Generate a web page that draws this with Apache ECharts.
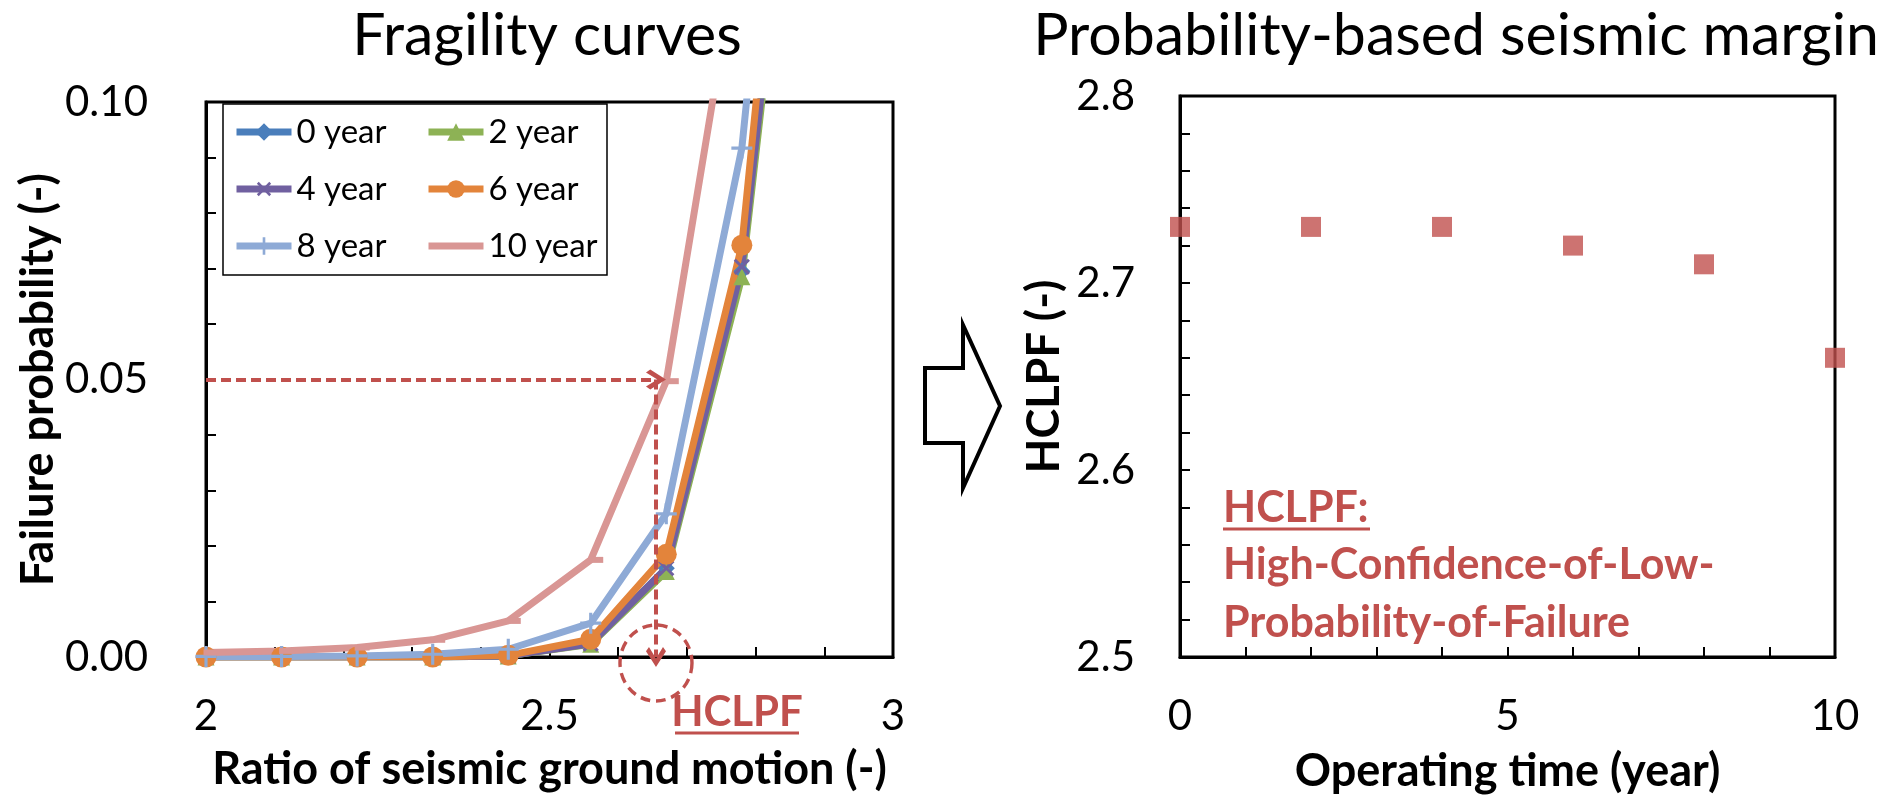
<!DOCTYPE html>
<html>
<head>
<meta charset="utf-8">
<title>Fragility curves / HCLPF</title>
<script src="https://cdn.jsdelivr.net/npm/echarts/dist/echarts.min.js"></script>
<style>
  html, body { margin: 0; padding: 0; background: #fff; }
  #main { width: 1893px; height: 799px; }
</style>
</head>
<body>
<div id="main"></div>
<script>
// ratio of seismic ground motion (x of the fragility curves)
var ratio = [2.00, 2.11, 2.22, 2.33, 2.44, 2.56, 2.67, 2.78, 2.89];

// failure probability per operating year
var year0  = [0, 0, 0, 0, 0.0002, 0.0025, 0.0160, 0.0695, 0.190];
var year2  = [0, 0, 0, 0, 0.0002, 0.0023, 0.0154, 0.0685, 0.188];
var year4  = [0, 0, 0, 0, 0.0002, 0.0024, 0.0160, 0.0703, 0.192];
var year6  = [0, 0, 0, 0, 0.0003, 0.0032, 0.0185, 0.0742, 0.211];
var year8  = [0.0001, 0.0001, 0.0002, 0.0005, 0.0014, 0.0061, 0.0258, 0.0917, 0.227];
var year10 = [0.0008, 0.0011, 0.0017, 0.0031, 0.0065, 0.0175, 0.0497, 0.132, 0.300];

// HCLPF read at 5% failure probability
var hclpfRatio = 2.655;
var targetProb = 0.05;

// probability-based seismic margin
var operatingYears = [0, 2, 4, 6, 8, 10];
var hclpf = [2.73, 2.73, 2.73, 2.72, 2.71, 2.66];

// tick labels that are printed
var xLeftLabels = [2, 2.5, 3];
var yLeftLabels = [0, 0.05, 0.1];
var xRightLabels = [0, 5, 10];
var yRightLabels = [2.5, 2.6, 2.7, 2.8];

var FONT = 'Lato';
var RED = '#C0504D';

var plusPath = 'path://M8.5,0 H11.5 V8.5 H20 V11.5 H11.5 V20 H8.5 V11.5 H0 V8.5 H8.5 Z';
var dashPath = 'path://M0,0 H20 V5 H0 Z';
var chevronPath = 'path://M0,11 L10,0 L20,11 L17,14 L10,6 L3,14 Z';

function pick(list, v) {
    for (var i = 0; i < list.length; i++) {
        if (Math.abs(list[i] - v) < 1e-6) return true;
    }
    return false;
}

function pairs(ys) {
    var out = [];
    for (var i = 0; i < ratio.length; i++) {
        out.push([ratio[i], ys[i]]);
    }
    return out;
}

function curve(name, ys, color, symbol, size, rotate, offset) {
    return {
        name: name,
        type: 'line',
        xAxisIndex: 0,
        yAxisIndex: 0,
        data: pairs(ys),
        clip: true,
        symbol: symbol,
        symbolSize: size,
        symbolRotate: rotate || 0,
        symbolOffset: offset || [0, 0],
        showAllSymbol: true,
        lineStyle: { color: color, width: 7 },
        itemStyle: { color: color },
        emphasis: { disabled: true }
    };
}

var axisLineStyle = { lineStyle: { color: '#000', width: 3 } };
var tickStyle = { show: true, inside: true, length: 10, lineStyle: { color: '#000', width: 2 } };
var legendText = { fontFamily: FONT, fontSize: 33, color: '#000', lineHeight: 34 };
var nameText = { fontFamily: FONT, fontSize: 45, fontWeight: 'bold', color: '#000' };

var myChart = echarts.init(document.getElementById('main'));

var option = {
    animation: false,
    backgroundColor: '#fff',
    textStyle: { fontFamily: FONT },
    grid: [
        { left: 206, right: 1000, top: 102, bottom: 142, show: true, borderColor: '#000', borderWidth: 3 },
        { left: 1180, right: 58, top: 96, bottom: 139, show: true, borderColor: '#000', borderWidth: 3 }
    ],
    legend: [
        {
            data: ['0 year', '4 year', '8 year'],
            orient: 'vertical', left: 233, top: 115,
            itemWidth: 55, itemHeight: 22, itemGap: 23, padding: 0,
            lineStyle: { width: 7 },
            textStyle: legendText
        },
        {
            data: ['2 year', '6 year', { name: '10 year', itemStyle: { opacity: 0 } }],
            orient: 'vertical', left: 425, top: 115,
            itemWidth: 55, itemHeight: 22, itemGap: 23, padding: 0,
            lineStyle: { width: 7 },
            textStyle: legendText
        }
    ],
    xAxis: [
        {
            gridIndex: 0, type: 'value', min: 2, max: 3, interval: 0.1,
            axisLine: axisLineStyle, axisTick: tickStyle, splitLine: { show: false },
            axisLabel: {
                margin: 38, fontSize: 42, color: '#000', fontFamily: FONT,
                formatter: function (v) { return pick(xLeftLabels, v) ? String(v) : ''; }
            },
            name: 'Ratio of seismic ground motion (-)', nameLocation: 'middle', nameGap: 90,
            nameTextStyle: nameText
        },
        {
            gridIndex: 1, type: 'value', min: 0, max: 10, interval: 1,
            axisLine: axisLineStyle, axisTick: tickStyle, splitLine: { show: false },
            axisLabel: {
                margin: 38, fontSize: 42, color: '#000', fontFamily: FONT,
                formatter: function (v) { return pick(xRightLabels, v) ? String(v) : ''; }
            },
            name: 'Operating time (year)', nameLocation: 'middle', nameGap: 92,
            nameTextStyle: nameText
        }
    ],
    yAxis: [
        {
            gridIndex: 0, type: 'value', min: 0, max: 0.1, interval: 0.01,
            axisLine: axisLineStyle, axisTick: tickStyle, splitLine: { show: false },
            axisLabel: {
                margin: 58, fontSize: 42, color: '#000', fontFamily: FONT,
                formatter: function (v) { return pick(yLeftLabels, v) ? v.toFixed(2) : ''; }
            },
            name: 'Failure probability (-)', nameLocation: 'middle', nameGap: 142, nameRotate: 90,
            nameTextStyle: nameText
        },
        {
            gridIndex: 1, type: 'value', min: 2.5, max: 2.8, interval: 0.02,
            axisLine: axisLineStyle, axisTick: tickStyle, splitLine: { show: false },
            axisLabel: {
                margin: 45, fontSize: 42, color: '#000', fontFamily: FONT,
                formatter: function (v) { return pick(yRightLabels, v) ? v.toFixed(1) : ''; }
            },
            name: 'HCLPF (-)', nameLocation: 'middle', nameGap: 113, nameRotate: 90,
            nameTextStyle: nameText
        }
    ],
    series: [
        curve('0 year', year0, '#4A7EBB', 'diamond', 17),
        curve('2 year', year2, '#8DB255', 'triangle', 17),
        curve('4 year', year4, '#7060A0', plusPath, 20, 45),
        curve('6 year', year6, '#E3843B', 'circle', 21),
        curve('8 year', year8, '#8EAAD6', plusPath, 21),
        curve('10 year', year10, '#D99694', dashPath, [15, 6], 0, [5, 0]),
        {
            name: 'HCLPF',
            type: 'line',
            xAxisIndex: 0,
            yAxisIndex: 0,
            data: [],
            clip: false,
            markLine: {
                silent: true,
                symbol: ['none', chevronPath],
                symbolSize: 20,
                label: { show: false },
                lineStyle: { color: RED, width: 4, type: [10, 5] },
                data: [
                    [{ coord: [2, targetProb] }, { coord: [hclpfRatio, targetProb] }],
                    [{ coord: [hclpfRatio, targetProb] }, { coord: [hclpfRatio, 0] }]
                ]
            },
            markPoint: {
                silent: true,
                symbol: 'circle',
                symbolSize: [72, 76],
                symbolOffset: [0, 6],
                label: { show: false },
                itemStyle: { color: 'rgba(0,0,0,0)', borderColor: RED, borderWidth: 3.5, borderType: [10, 6] },
                data: [{ coord: [hclpfRatio, 0] }]
            }
        },
        {
            name: 'HCLPF margin',
            type: 'scatter',
            xAxisIndex: 1,
            yAxisIndex: 1,
            clip: false,
            symbol: 'rect',
            symbolSize: 20,
            itemStyle: { color: RED },
            data: operatingYears.map(function (t, i) { return [t, hclpf[i]]; })
        }
    ],
    graphic: [
        {
            type: 'text', x: 547, y: 36,
            style: { text: 'Fragility curves', fontFamily: FONT, fontSize: 59, fill: '#000', textAlign: 'center', textVerticalAlign: 'middle' }
        },
        {
            type: 'text', x: 1456, y: 36,
            style: { text: 'Probability-based seismic margin', fontFamily: FONT, fontSize: 59, fill: '#000', textAlign: 'center', textVerticalAlign: 'middle' }
        },
        {
            type: 'rect', z: 0,
            shape: { x: 223, y: 104, width: 384, height: 171 },
            style: { fill: '#fff', stroke: '#000', lineWidth: 1.5 }
        },
        {
            type: 'polygon',
            shape: { points: [[925, 368], [963, 368], [963, 325], [1000, 406], [963, 488], [963, 443], [925, 443]] },
            style: { fill: '#fff', stroke: '#000', lineWidth: 4 }
        },
        {
            type: 'text', x: 737, y: 712,
            style: { text: 'HCLPF', fontFamily: FONT, fontSize: 42, fontWeight: 'bold', fill: RED, textAlign: 'center', textVerticalAlign: 'middle' }
        },
        {
            type: 'line', shape: { x1: 675, y1: 733, x2: 799, y2: 733 },
            style: { stroke: RED, lineWidth: 3 }
        },
        {
            type: 'text', x: 1223, y: 508,
            style: { text: 'HCLPF:', fontFamily: FONT, fontSize: 43, fontWeight: 'bold', fill: RED, textAlign: 'left', textVerticalAlign: 'middle' }
        },
        {
            type: 'line', shape: { x1: 1223, y1: 529, x2: 1370, y2: 529 },
            style: { stroke: RED, lineWidth: 3 }
        },
        {
            type: 'text', x: 1223, y: 565,
            style: { text: 'High-Confidence-of-Low-', fontFamily: FONT, fontSize: 43, fontWeight: 'bold', fill: RED, textAlign: 'left', textVerticalAlign: 'middle' }
        },
        {
            type: 'text', x: 1223, y: 623,
            style: { text: 'Probability-of-Failure', fontFamily: FONT, fontSize: 43, fontWeight: 'bold', fill: RED, textAlign: 'left', textVerticalAlign: 'middle' }
        }
    ]
};

myChart.setOption(option);
</script>
</body>
</html>
